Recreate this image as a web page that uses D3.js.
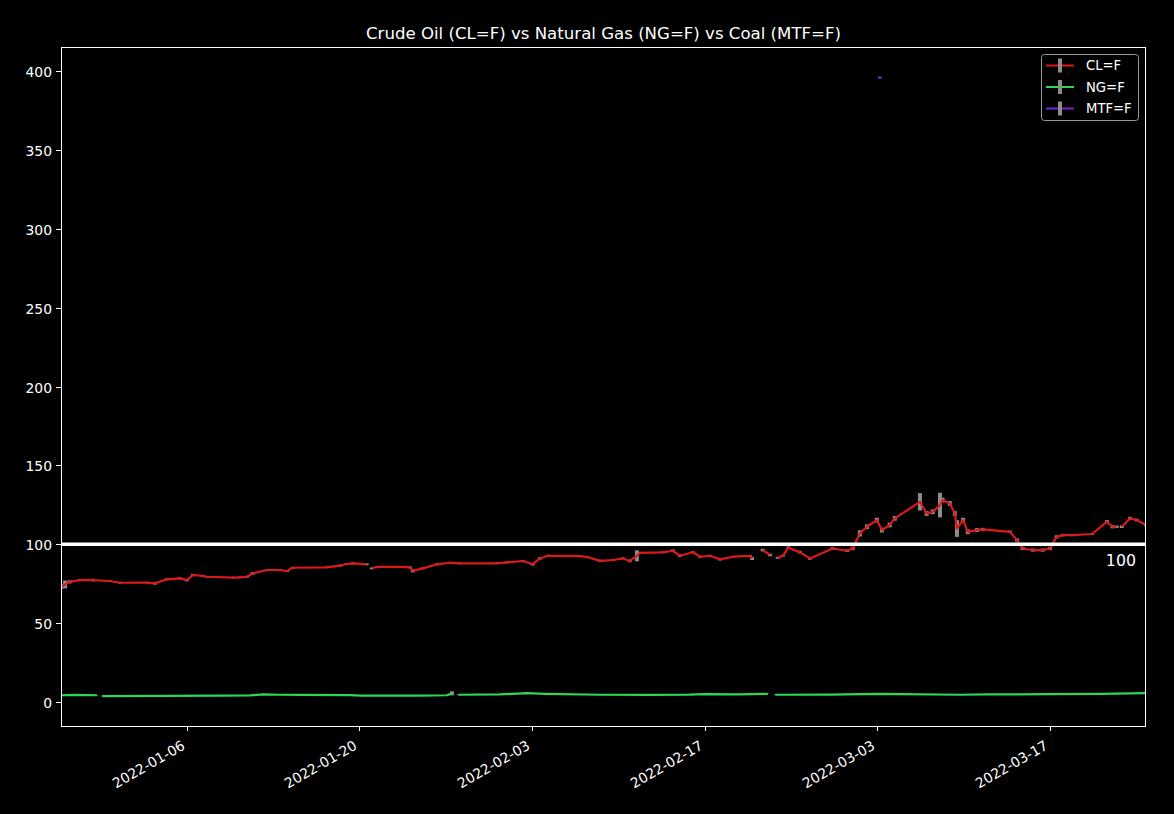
<!DOCTYPE html>
<html>
<head>
<meta charset="utf-8">
<script src="https://cdn.jsdelivr.net/npm/d3@7"></script>
<style>
  body { margin: 0; background: #000; }
  svg { display: block; }
  text { font-family: "DejaVu Sans", sans-serif; fill: #fff; }
</style>
</head>
<body>
<svg id="chart" width="1174" height="814"></svg>
<script>
// ---------------- DATA ----------------
const chartTitle = "Crude Oil (CL=F) vs Natural Gas (NG=F) vs Coal (MTF=F)";
const seriesNames = ["CL=F", "NG=F", "MTF=F"];
const referenceLevel = 100;

// Crude oil (CL=F): time, close, half range (error bar); null = gap
const clTime = [
  "2021-12-26T19:00","2021-12-27T03:00","2021-12-27T12:00","2021-12-28T08:00","2021-12-29T09:00",
  "2021-12-30T18:00","2021-12-31T14:00","2022-01-02T19:00","2022-01-03T10:00","2022-01-04T09:00",
  "2022-01-05T10:00","2022-01-06T00:00","2022-01-06T12:00","2022-01-07T07:00","2022-01-07T15:00",
  "2022-01-09T20:00","2022-01-10T07:00","2022-01-10T21:00","2022-01-11T08:00","2022-01-12T12:00",
  "2022-01-13T13:00","2022-01-14T03:00","2022-01-14T14:00","2022-01-17T08:00","2022-01-18T10:00",
  "2022-01-18T23:00","2022-01-19T11:00","2022-01-20T14:00","2022-01-20T19:00","2022-01-21T00:00",
  "2022-01-21T10:00","2022-01-23T06:00","2022-01-24T02:00","2022-01-24T08:00","2022-01-25T03:00",
  "2022-01-26T07:00","2022-01-27T08:00","2022-01-28T03:00","2022-01-31T03:00","2022-01-31T23:00",
  "2022-02-02T06:00","2022-02-03T01:00","2022-02-03T15:00","2022-02-04T07:00","2022-02-06T21:00",
  "2022-02-07T11:00","2022-02-08T12:00","2022-02-09T13:00","2022-02-10T09:00","2022-02-10T22:00",
  "2022-02-11T12:00","2022-02-11T18:00","2022-02-13T14:00","2022-02-14T10:00","2022-02-15T00:00",
  "2022-02-16T01:00","2022-02-16T15:00","2022-02-17T10:00","2022-02-18T06:00","2022-02-19T07:00",
  "2022-02-20T16:00","2022-02-20T20:00","2022-02-21T06:00","2022-02-21T17:00","2022-02-22T07:00",
  "2022-02-22T15:00","2022-02-22T22:00","2022-02-23T08:00","2022-02-23T19:00","2022-02-24T17:00",
  "2022-02-25T13:00","2022-02-27T09:00","2022-02-28T13:00","2022-03-01T00:00","2022-03-01T14:00",
  "2022-03-02T04:00","2022-03-02T23:00","2022-03-03T09:00","2022-03-04T00:00","2022-03-04T10:00",
  "2022-03-06T11:00","2022-03-07T00:00","2022-03-07T12:00","2022-03-08T02:00","2022-03-08T07:00",
  "2022-03-08T21:00","2022-03-09T07:00","2022-03-09T11:00","2022-03-09T23:00","2022-03-10T08:00",
  "2022-03-11T02:00","2022-03-11T13:00","2022-03-13T18:00","2022-03-14T08:00","2022-03-14T19:00",
  "2022-03-15T15:00","2022-03-16T10:00","2022-03-17T00:00","2022-03-17T13:00","2022-03-18T01:00",
  "2022-03-18T21:00","2022-03-20T10:00","2022-03-21T15:00","2022-03-22T02:00","2022-03-22T10:00",
  "2022-03-22T15:00","2022-03-22T20:00","2022-03-23T12:00","2022-03-24T01:00","2022-03-24T19:00"
];
const clValue = [
  73.1, 74.5, 76.2, 77.3, 77.3,
  76.7, 75.6, 75.7, 75.2, 77.8,
  78.4, 77.3, 80.5, 80.0, 79.4,
  78.9, 79.0, 79.4, 81.5, 83.7,
  83.7, 83.0, 85.1, 85.4, 86.4,
  87.5, 87.9, 87.3, null, 84.7,
  85.7, 85.7, 85.4, 83.2, 84.7,
  87.3, 88.3, 87.9, 87.9, 88.5,
  89.4, 87.3, 91.0, 92.7, 92.5,
  91.9, 89.5, 90.0, 91.0, 89.4,
  92.7, 94.6, 94.9, 95.9, 92.7,
  94.9, 92.1, 92.7, 90.4, 92.1,
  92.7, 91.0, null, 96.3, 93.2,
  null, 91.4, 92.7, 97.8, 95.0,
  91.0, 97.3, 95.9, 97.3, 106.9,
  111.1, 115.3, 109.0, 112.2, 116.4,
  126.9, 119.5, 120.6, 124.8, 128.0,
  125.9, 119.5, 110.0, 115.3, 107.9,
  109.0, 109.4, 107.9, 102.7, 97.3,
  96.3, 96.3, 97.3, 104.7, 105.8,
  105.8, 106.5, 114.3, 111.1, 111.1,
  null, 111.1, 116.4, 115.3, 112.2
];
const clErr = [
  1.5, 2.5, 1.0, 0.6, 0.8,
  0.6, 0.5, 0.5, 0.8, 0.6,
  0.6, 0.8, 0.7, 0.5, 0.5,
  0.5, 0.5, 0.6, 0.8, 0.6,
  0.5, 0.6, 0.6, 0.5, 0.6,
  0.6, 0.6, 0.6, 0, 0.6,
  0.5, 0.5, 0.6, 1.0, 0.6,
  0.6, 0.5, 0.5, 0.5, 0.6,
  0.6, 0.8, 0.8, 0.6, 0.5,
  0.6, 0.7, 0.6, 0.6, 0.8,
  3.5, 0.6, 0.5, 0.8, 0.8,
  0.6, 0.6, 0.6, 0.7, 0.5,
  0.5, 1.0, 0, 0.8, 0.8,
  0, 0.6, 0.6, 0.8, 0.8,
  0.8, 0.8, 0.8, 1.0, 2.0,
  1.5, 1.5, 1.5, 1.5, 1.5,
  5.5, 1.5, 1.5, 7.8, 1.5,
  1.5, 1.5, 5.3, 1.5, 1.5,
  1.2, 1.0, 0.8, 1.0, 1.0,
  1.0, 1.0, 1.0, 1.0, 0.8,
  0.6, 0.6, 1.0, 1.0, 0.8,
  0, 0.8, 1.0, 0.8, 0.8
];

// Natural gas (NG=F)
const ngTime = [
  "2021-12-26T19:00","2021-12-27T22:00","2021-12-29T17:00","2021-12-29T23:00","2021-12-30T03:00",
  "2022-01-03T19:00","2022-01-08T16:00","2022-01-11T03:00","2022-01-12T04:00","2022-01-13T13:00",
  "2022-01-15T04:00","2022-01-19T05:00","2022-01-20T05:00","2022-01-24T22:00","2022-01-27T02:00",
  "2022-01-27T12:00","2022-01-27T18:00","2022-01-28T00:00","2022-01-31T09:00","2022-02-02T14:00",
  "2022-02-04T01:00","2022-02-08T12:00","2022-02-12T13:00","2022-02-15T19:00","2022-02-16T22:00",
  "2022-02-19T20:00","2022-02-22T03:00","2022-02-22T10:00","2022-02-22T17:00","2022-02-27T04:00",
  "2022-03-02T23:00","2022-03-04T20:00","2022-03-09T17:00","2022-03-11T23:00","2022-03-17T00:00",
  "2022-03-21T01:00","2022-03-24T19:00"
];
const ngValue = [
  4.3, 4.5, 4.3, null, 3.8,
  3.9, 4.0, 4.2, 4.8, 4.6,
  4.5, 4.4, 4.0, 4.0, 4.3,
  5.5, null, 4.6, 4.8, 5.6,
  5.2, 4.6, 4.5, 4.7, 5.0,
  4.8, 5.2, null, 4.6, 4.7,
  5.2, 5.0, 4.6, 4.8, 5.0,
  5.2, 5.6
];
const ngErr = [
  0.1, 0.1, 0.1, 0, 0.1,
  0.1, 0.1, 0.1, 0.1, 0.1,
  0.1, 0.1, 0.1, 0.1, 0.1,
  1.3, 0, 0.1, 0.1, 0.2,
  0.1, 0.1, 0.1, 0.1, 0.1,
  0.1, 0.1, 0, 0.1, 0.1,
  0.1, 0.1, 0.1, 0.1, 0.1,
  0.1, 0.1
];

// Coal (MTF=F): a single quote
const mtfTime = ["2022-03-03T05:00"];
const mtfValue = [395.8];
const mtfErr = [0.6];

// Axis ticks
const xTickDates = ["2022-01-06","2022-01-20","2022-02-03","2022-02-17","2022-03-03","2022-03-17"];
const yTickValues = [0, 50, 100, 150, 200, 250, 300, 350, 400];

// ---------------- DRAW ----------------
const W = 1174, H = 814;
const margin = { left: 61, right: 1146, top: 47, bottom: 726 };
const colors = { "CL=F": "#da1a1a", "NG=F": "#2fd558", "MTF=F": "#7a22d6" };
const errColor = "#8c8c8c";

const parseT = d3.utcParse("%Y-%m-%dT%H:%M");
const parseD = d3.utcParse("%Y-%m-%d");

function build(times, vals, errs) {
  return times.map((t, i) => ({ t: parseT(t), v: vals[i], e: errs[i] }));
}
const series = [
  { name: "CL=F", data: build(clTime, clValue, clErr) },
  { name: "NG=F", data: build(ngTime, ngValue, ngErr) },
  { name: "MTF=F", data: build(mtfTime, mtfValue, mtfErr) }
];

const tExt = d3.extent(series[0].data, d => d.t);
const x = d3.scaleUtc().domain(tExt).range([margin.left, margin.right]);
const y = d3.scaleLinear().domain([-15.2, 415.2]).range([margin.bottom, margin.top]);

const svg = d3.select("#chart");
svg.append("rect").attr("width", W).attr("height", H).attr("fill", "#000");

svg.append("defs").append("clipPath").attr("id", "clip")
  .append("rect").attr("x", margin.left).attr("y", margin.top)
  .attr("width", margin.right - margin.left).attr("height", margin.bottom - margin.top);

const plot = svg.append("g").attr("clip-path", "url(#clip)");

const line = d3.line().defined(d => d.v != null).x(d => x(d.t)).y(d => y(d.v));

series.forEach(s => {
  const g = plot.append("g");
  g.selectAll("line.err").data(s.data.filter(d => d.v != null && d.e > 0)).join("line")
    .attr("x1", d => x(d.t)).attr("x2", d => x(d.t))
    .attr("y1", d => y(d.v - d.e)).attr("y2", d => y(d.v + d.e))
    .attr("stroke", s.name === "MTF=F" ? "#4a3a8a" : errColor).attr("stroke-width", 4);
  if (s.data.length > 1) {
    g.append("path").datum(s.data).attr("d", line)
      .attr("fill", "none").attr("stroke", colors[s.name]).attr("stroke-width", 2.2)
      .attr("stroke-linejoin", "round");
  } else {
    g.selectAll("rect.pt").data(s.data).join("rect")
      .attr("x", d => x(d.t) - 1).attr("y", d => y(d.v) - 1)
      .attr("width", 2).attr("height", 2).attr("fill", "#5b3fe0");
  }
});

// Reference line at 100
plot.append("line")
  .attr("x1", margin.left).attr("x2", margin.right)
  .attr("y1", y(referenceLevel)).attr("y2", y(referenceLevel))
  .attr("stroke", "#fff").attr("stroke-width", 3.5);
svg.append("text").attr("x", margin.right - 10).attr("y", y(referenceLevel) + 22)
  .attr("text-anchor", "end").attr("font-size", "15.8px").text(String(referenceLevel));

// Spines
svg.append("rect").attr("x", margin.left + 0.5).attr("y", margin.top + 0.5)
  .attr("width", margin.right - margin.left - 1).attr("height", margin.bottom - margin.top)
  .attr("fill", "none").attr("stroke", "#fff").attr("stroke-width", 1);

// Y axis
const yAxis = svg.append("g");
yTickValues.forEach(v => {
  const yy = Math.round(y(v)) + 0.5;
  yAxis.append("line").attr("x1", margin.left - 5).attr("x2", margin.left)
    .attr("y1", yy).attr("y2", yy).attr("stroke", "#fff");
  yAxis.append("text").attr("x", margin.left - 9).attr("y", yy)
    .attr("text-anchor", "end").attr("dominant-baseline", "central")
    .attr("font-size", "13.9px").text(v);
});

// X axis
const xAxis = svg.append("g");
xTickDates.forEach(s => {
  const xx = Math.round(x(parseD(s))) + 0.5;
  xAxis.append("line").attr("x1", xx).attr("x2", xx)
    .attr("y1", margin.bottom).attr("y2", margin.bottom + 5).attr("stroke", "#fff");
  xAxis.append("text")
    .attr("transform", `translate(${xx - 4},${margin.bottom + 18}) rotate(-30)`)
    .attr("text-anchor", "end").attr("dominant-baseline", "central")
    .attr("font-size", "13.9px").text(d3.utcFormat("%Y-%m-%d")(parseD(s)));
});

// Title
svg.append("text").attr("x", (margin.left + margin.right) / 2).attr("y", 39)
  .attr("text-anchor", "middle").attr("font-size", "16.6px").text(chartTitle);

// Legend
const lg = svg.append("g");
lg.append("rect").attr("x", 1041.5).attr("y", 54.5).attr("width", 97).attr("height", 66)
  .attr("rx", 3).attr("fill", "#000").attr("stroke", "#9a9a9a").attr("stroke-width", 1);
seriesNames.forEach((n, i) => {
  const yy = 65.5 + i * 21.5;
  lg.append("line").attr("x1", 1046).attr("x2", 1074).attr("y1", yy).attr("y2", yy)
    .attr("stroke", colors[n]).attr("stroke-width", 2);
  lg.append("line").attr("x1", 1060).attr("x2", 1060).attr("y1", yy - 7).attr("y2", yy + 7)
    .attr("stroke", errColor).attr("stroke-width", 4);
  lg.append("text").attr("x", 1086).attr("y", yy).attr("dominant-baseline", "central")
    .attr("font-size", "13.2px").text(n);
});
</script>
</body>
</html>
